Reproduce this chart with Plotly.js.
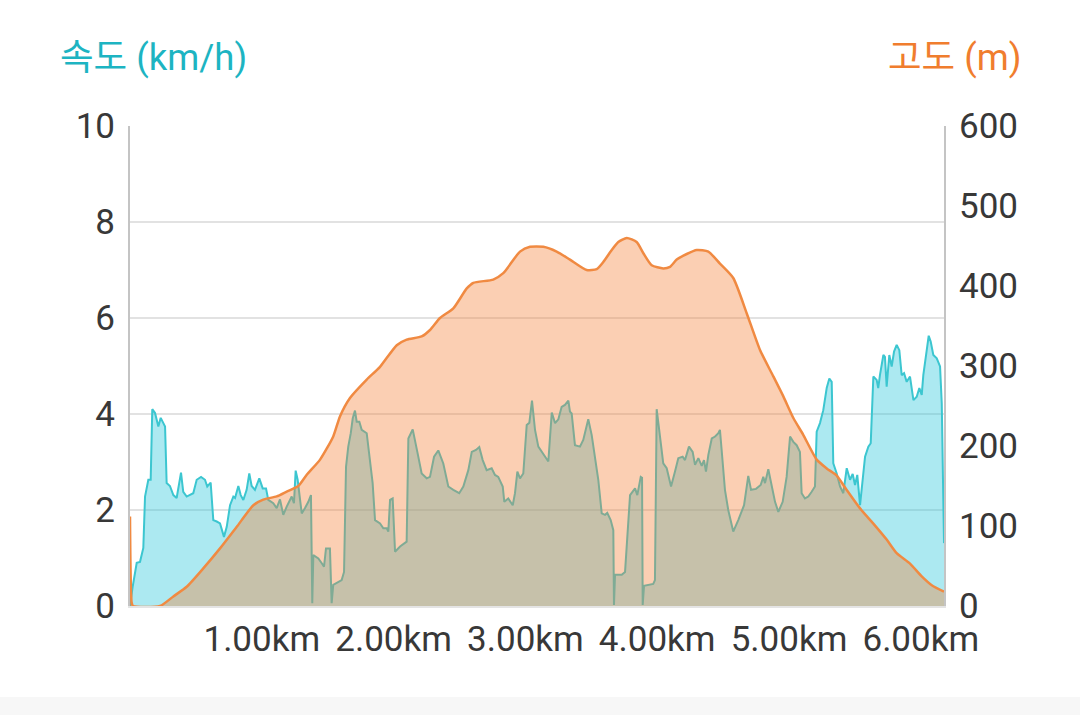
<!DOCTYPE html>
<html>
<head>
<meta charset="utf-8">
<script src="https://cdn.plot.ly/plotly-3.0.1.min.js"></script>
<style>
  html, body { margin: 0; padding: 0; background: #ffffff; width: 1080px; height: 715px; overflow: hidden; }
  #chart { position: absolute; left: 0; top: 0; width: 1080px; height: 715px; }
  #band { position: absolute; left: 0; top: 697px; width: 1080px; height: 18px; background: #f7f7f7; }
</style>
</head>
<body>
<div id="chart"></div>
<div id="band"></div>
<script>
// distance (km) for speed samples
const speedDistance = [
  0.000, 0.020, 0.051, 0.076, 0.101, 0.114, 0.139, 0.157, 0.169, 0.190,
  0.215, 0.233, 0.253, 0.266, 0.278, 0.303, 0.329, 0.354, 0.387, 0.404,
  0.430, 0.455, 0.480, 0.506, 0.539, 0.569, 0.586, 0.612, 0.632, 0.658,
  0.683, 0.713, 0.734, 0.759, 0.784, 0.797, 0.822, 0.840, 0.860, 0.885,
  0.905, 0.923, 0.948, 0.981, 1.007, 1.032, 1.049, 1.087, 1.113, 1.138,
  1.163, 1.189, 1.227, 1.244, 1.257, 1.272, 1.303, 1.328, 1.353, 1.373,
  1.383, 1.391, 1.429, 1.455, 1.472, 1.487, 1.517, 1.530, 1.542, 1.606,
  1.624, 1.639, 1.656, 1.675, 1.690, 1.707, 1.720, 1.740, 1.758, 1.796,
  1.816, 1.841, 1.859, 1.897, 1.922, 1.948, 1.960, 1.973, 1.993, 2.011,
  2.049, 2.099, 2.112, 2.145, 2.180, 2.213, 2.251, 2.276, 2.307, 2.339,
  2.377, 2.415, 2.453, 2.498, 2.529, 2.567, 2.593, 2.625, 2.650, 2.676,
  2.706, 2.744, 2.769, 2.794, 2.828, 2.840, 2.870, 2.904, 2.921, 2.939,
  2.959, 2.984, 3.010, 3.030, 3.050, 3.073, 3.098, 3.136, 3.174, 3.200,
  3.225, 3.250, 3.275, 3.300, 3.326, 3.338, 3.351, 3.376, 3.414, 3.439,
  3.477, 3.503, 3.528, 3.553, 3.579, 3.604, 3.621, 3.647, 3.667, 3.672,
  3.680, 3.731, 3.756, 3.773, 3.794, 3.832, 3.849, 3.875, 3.885, 3.890,
  3.900, 3.970, 3.983, 3.996, 4.016, 4.046, 4.072, 4.105, 4.135, 4.160,
  4.193, 4.211, 4.241, 4.269, 4.287, 4.312, 4.338, 4.355, 4.370, 4.388,
  4.414, 4.439, 4.464, 4.476, 4.489, 4.514, 4.539, 4.577, 4.615, 4.659,
  4.691, 4.712, 4.750, 4.785, 4.805, 4.818, 4.843, 4.869, 4.894, 4.919,
  4.952, 4.982, 5.008, 5.033, 5.058, 5.083, 5.096, 5.121, 5.146, 5.172,
  5.197, 5.210, 5.235, 5.260, 5.286, 5.306, 5.324, 5.336, 5.362, 5.387,
  5.412, 5.438, 5.463, 5.483, 5.501, 5.518, 5.539, 5.577, 5.602, 5.620,
  5.640, 5.665, 5.677, 5.690, 5.716, 5.728, 5.741, 5.761, 5.779, 5.797,
  5.817, 5.837, 5.855, 5.873, 5.893, 5.918, 5.944, 5.969, 5.989, 6.007,
  6.019, 6.045, 6.060, 6.075, 6.095, 6.121, 6.146, 6.159, 6.176
];
// speed (km/h)
const speedKmh = [
  0.00, 0.40, 0.90, 0.92, 1.21, 2.28, 2.63, 2.63, 4.10, 4.02,
  3.74, 3.92, 3.81, 3.74, 2.56, 2.50, 2.31, 2.25, 2.78, 2.38,
  2.28, 2.31, 2.35, 2.63, 2.69, 2.63, 2.49, 2.57, 1.79, 1.76,
  1.72, 1.44, 1.65, 2.10, 2.28, 2.25, 2.50, 2.31, 2.21, 2.42,
  2.76, 2.50, 2.42, 2.66, 2.45, 2.45, 2.21, 2.14, 2.04, 2.22,
  1.90, 2.07, 2.28, 2.14, 2.82, 2.63, 1.93, 2.04, 2.17, 2.31,
  0.06, 1.06, 0.99, 0.89, 0.82, 1.20, 1.20, 0.06, 0.44, 0.54,
  0.71, 2.90, 3.32, 3.60, 3.91, 4.07, 3.84, 3.84, 3.67, 3.60,
  3.11, 2.56, 1.79, 1.72, 1.62, 1.62, 1.55, 2.21, 2.24, 1.13,
  1.24, 1.34, 3.49, 3.68, 3.21, 2.76, 2.66, 2.69, 3.11, 3.24,
  2.97, 2.49, 2.42, 2.35, 2.49, 2.83, 3.21, 3.25, 3.31, 3.04,
  2.83, 2.87, 2.73, 2.69, 2.49, 2.17, 2.24, 2.10, 2.35, 2.80,
  2.66, 2.76, 3.77, 3.82, 4.28, 3.67, 3.32, 3.15, 3.01, 4.03,
  3.81, 3.89, 4.15, 4.19, 4.28, 4.05, 4.01, 3.35, 3.32, 3.46,
  3.89, 3.56, 3.08, 2.63, 1.93, 1.90, 1.94, 1.79, 1.58, 0.02,
  0.65, 0.65, 0.71, 1.51, 2.31, 2.45, 2.31, 2.69, 2.67, 0.02,
  0.42, 0.46, 0.54, 4.10, 3.67, 2.97, 2.87, 2.49, 2.80, 3.08,
  3.11, 3.04, 3.32, 3.21, 2.94, 3.08, 2.92, 3.04, 2.80, 3.15,
  3.49, 3.53, 3.60, 3.67, 3.25, 2.42, 2.00, 1.55, 1.79, 2.10,
  2.71, 2.42, 2.44, 2.52, 2.69, 2.56, 2.85, 2.49, 2.17, 1.96,
  2.17, 2.69, 3.53, 3.42, 3.35, 3.21, 2.35, 2.24, 2.28, 2.38,
  2.49, 3.63, 3.81, 4.08, 4.54, 4.74, 4.67, 2.97, 2.76, 2.49,
  2.35, 2.87, 2.63, 2.75, 2.52, 2.73, 2.10, 3.11, 3.32, 3.39,
  4.78, 4.71, 4.54, 4.81, 5.23, 5.19, 4.57, 5.23, 4.99, 5.30,
  5.44, 5.33, 4.81, 4.85, 4.67, 4.78, 4.29, 4.36, 4.54, 4.40,
  4.81, 5.33, 5.63, 5.51, 5.23, 5.16, 4.99, 4.22, 1.31
];
// distance (km) for altitude samples
const altitudeDistance = [
  0.000, 0.013, 0.023, 0.228, 0.329, 0.430, 0.556, 0.683, 0.810, 0.936,
  1.011, 1.113, 1.189, 1.277, 1.341, 1.442, 1.542, 1.593, 1.669, 1.796,
  1.897, 2.024, 2.099, 2.213, 2.276, 2.352, 2.453, 2.555, 2.605, 2.756,
  2.832, 2.959, 3.035, 3.136, 3.237, 3.338, 3.465, 3.541, 3.591, 3.655,
  3.705, 3.769, 3.844, 3.895, 3.958, 4.046, 4.097, 4.148, 4.224, 4.300,
  4.388, 4.476, 4.577, 4.679, 4.780, 4.881, 4.957, 5.033, 5.108, 5.210,
  5.286, 5.362, 5.438, 5.539, 5.640, 5.741, 5.817, 5.918, 6.007, 6.083,
  6.176
];
// altitude (m)
const altitudeM = [
  112, 4, 0, 0, 12, 24, 47, 72, 99, 126,
  133, 137, 143, 150, 164, 183, 212, 237, 260, 283,
  299, 326, 333, 337, 345, 360, 372, 397, 404, 408,
  416, 443, 449, 449, 443, 433, 420, 421, 430, 445,
  455, 460, 455, 441, 426, 422, 424, 433, 440, 445,
  443, 428, 410, 366, 320, 287, 262, 235, 214, 183,
  172, 163, 145, 122, 103, 83, 66, 53, 37, 26,
  18
];
const xTickValues = [1, 2, 3, 4, 5, 6];
const xTickLabels = ['1.00km', '2.00km', '3.00km', '4.00km', '5.00km', '6.00km'];
const speedTitle = '속도 (km/h)';
const altitudeTitle = '고도 (m)';

const FONT = 'Roboto, "Noto Sans CJK KR", sans-serif';

const traces = [
  {
    type: 'scatter', mode: 'lines',
    x: speedDistance, y: speedKmh,
    yaxis: 'y', fill: 'tozeroy',
    fillcolor: 'rgba(38,198,218,0.38)',
    line: { color: '#3cc6d0', width: 2 },
    hoverinfo: 'skip', showlegend: false
  },
  {
    type: 'scatter', mode: 'lines',
    x: altitudeDistance, y: altitudeM,
    yaxis: 'y2', fill: 'tozeroy',
    fillcolor: 'rgba(245,124,50,0.37)',
    line: { color: '#f08a42', width: 2.5, shape: 'spline', smoothing: 0.6 },
    hoverinfo: 'skip', showlegend: false
  }
];

const layout = {
  width: 1080, height: 715,
  margin: { l: 130, r: 136, t: 126, b: 109, pad: 0 },
  paper_bgcolor: 'rgba(0,0,0,0)',
  plot_bgcolor: '#ffffff',
  font: { family: FONT, size: 35, color: '#333333' },
  showlegend: false,
  xaxis: {
    range: [0, 6.176],
    showgrid: false, zeroline: false,
    showline: true, linecolor: '#e4e4e4', linewidth: 2,
    tickmode: 'array', tickvals: xTickValues, ticktext: xTickLabels,
    ticks: 'outside', ticklen: 1, tickcolor: 'rgba(0,0,0,0)',
    tickfont: { family: FONT, size: 35, color: '#383838' },
    fixedrange: true
  },
  yaxis: {
    range: [0, 10], tick0: 0, dtick: 2,
    showgrid: true, gridcolor: '#e2e2e2', gridwidth: 2,
    zeroline: false,
    showline: true, linecolor: '#c4c4c4', linewidth: 2,
    ticks: 'outside', ticklen: 6, tickcolor: 'rgba(0,0,0,0)',
    tickfont: { family: FONT, size: 35, color: '#383838' },
    fixedrange: true
  },
  yaxis2: {
    range: [0, 600], tick0: 0, dtick: 100,
    overlaying: 'y', side: 'right',
    showgrid: false, zeroline: false,
    showline: true, linecolor: '#c4c4c4', linewidth: 2,
    ticks: 'outside', ticklen: 6, tickcolor: 'rgba(0,0,0,0)',
    tickfont: { family: FONT, size: 35, color: '#383838' },
    fixedrange: true
  },
  annotations: [
    {
      text: speedTitle, xref: 'paper', yref: 'paper',
      x: -0.089, y: 1.142, xanchor: 'left', yanchor: 'middle',
      showarrow: false, font: { family: FONT, size: 36.5, color: '#1db4c2' }
    },
    {
      text: altitudeTitle, xref: 'paper', yref: 'paper',
      x: 1.097, y: 1.142, xanchor: 'right', yanchor: 'middle',
      showarrow: false, font: { family: FONT, size: 36.5, color: '#f07d2e' }
    }
  ]
};

Plotly.newPlot('chart', traces, layout, { displayModeBar: false, staticPlot: true });
</script>
</body>
</html>
